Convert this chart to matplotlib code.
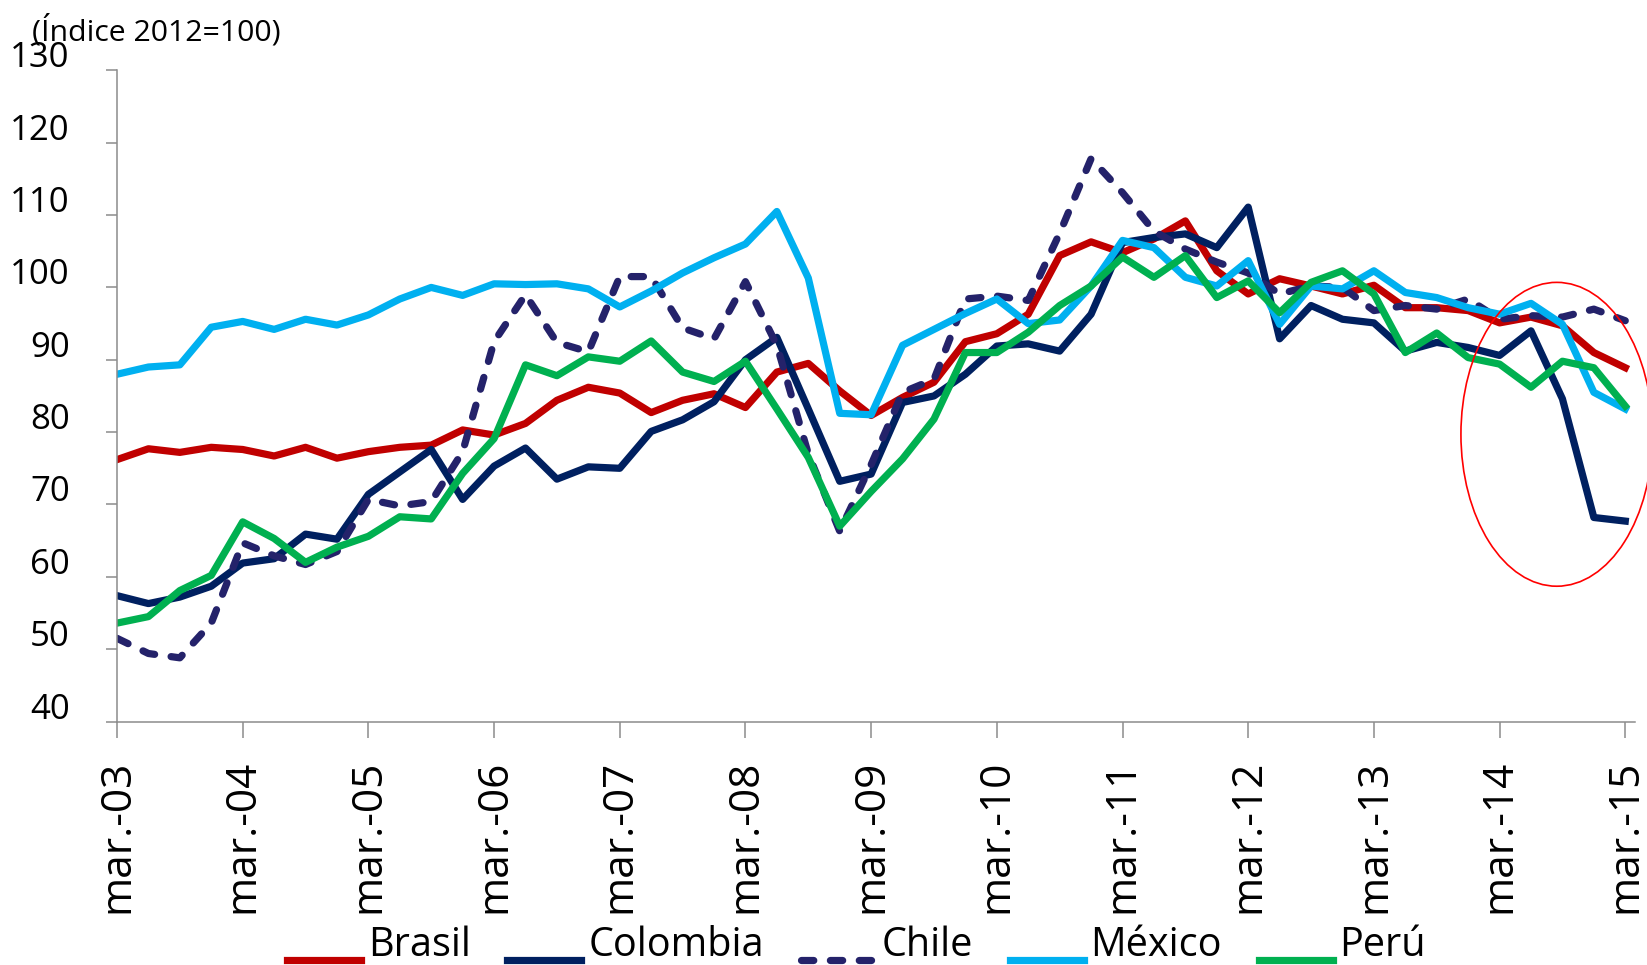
"""Índice de precios de exportación (2012=100), trimestral mar-03 a mar-15."""

import matplotlib
matplotlib.use("Agg")
import matplotlib.pyplot as plt
import numpy as np
from matplotlib.legend_handler import HandlerLine2D
from matplotlib.patches import Ellipse
from matplotlib.transforms import ScaledTranslation

# quarterly points, mar-03 .. mar-15 (49 values each)
brasil = [76.2, 77.7, 77.2, 77.9, 77.6, 76.7, 77.9, 76.4, 77.3, 77.9, 78.2, 80.3, 79.6,
          81.2, 84.4, 86.2, 85.4, 82.7, 84.4, 85.3, 83.4, 88.3, 89.5, 85.7, 82.3,
          84.8, 86.9, 92.5, 93.6, 96.3, 104.4, 106.3, 104.8, 106.7, 109.2, 102.3, 99.1,
          101.2, 100.2, 99.1, 100.3, 97.2, 97.2, 96.8, 95.1, 95.9, 94.7, 91.0, 88.9]
colombia = [57.4, 56.3, 57.2, 58.7, 61.9, 62.5, 65.9, 65.2, 71.4, 74.5, 77.6, 70.7, 75.3,
            77.8, 73.5, 75.2, 75.0, 80.1, 81.7, 84.2, 90.0, 93.1, 83.2, 73.2, 74.2,
            84.1, 85.0, 88.0, 91.9, 92.2, 91.2, 96.3, 106.2, 106.9, 107.4, 105.5, 111.1,
            92.9, 97.5, 95.6, 95.1, 91.2, 92.4, 91.7, 90.6, 94.0, 84.6, 68.2, 67.7]
chile = [51.5, 49.4, 48.8, 53.6, 64.7, 62.9, 61.7, 63.5, 70.7, 69.8, 70.4, 77.3, 92.5,
         99.0, 92.4, 91.1, 101.5, 101.5, 94.4, 92.9, 100.8, 92.0, 77.0, 66.3, 75.5,
         85.5, 87.3, 98.4, 98.8, 98.2, 107.5, 117.8, 113.1, 107.8, 105.3, 103.5, 102.0,
         99.1, 100.2, 100.0, 96.8, 97.5, 97.0, 98.4, 95.6, 96.1, 95.9, 97.0, 95.4]
mexico = [88.0, 89.0, 89.3, 94.5, 95.3, 94.2, 95.6, 94.8, 96.2, 98.4, 100.0, 98.9, 100.5,
          100.4, 100.5, 99.8, 97.3, 99.5, 102.0, 104.1, 106.0, 110.5, 101.3, 82.6, 82.4,
          92.0, 94.2, 96.4, 98.4, 95.0, 95.5, 100.2, 106.5, 105.5, 101.4, 100.2, 103.7,
          94.9, 100.2, 99.8, 102.3, 99.3, 98.6, 97.2, 96.3, 97.8, 94.9, 85.5, 83.2]
peru = [53.6, 54.5, 58.1, 60.2, 67.6, 65.3, 62.0, 64.1, 65.6, 68.3, 68.0, 74.3, 79.1,
        89.3, 87.8, 90.4, 89.8, 92.6, 88.3, 87.0, 89.8, 83.2, 76.5, 67.0, 71.8,
        76.3, 81.8, 91.0, 91.0, 93.8, 97.5, 100.2, 104.2, 101.4, 104.4, 98.6, 100.9,
        96.5, 100.7, 102.3, 99.1, 91.0, 93.7, 90.3, 89.4, 86.2, 89.8, 88.9, 83.6]

year_labels = ["mar.-03", "mar.-04", "mar.-05", "mar.-06", "mar.-07", "mar.-08", "mar.-09",
               "mar.-10", "mar.-11", "mar.-12", "mar.-13", "mar.-14", "mar.-15"]
y_ticks = [40, 50, 60, 70, 80, 90, 100, 110, 120, 130]

COLORS = {
    "Brasil": "#C00000",
    "Colombia": "#002060",
    "Chile": "#24226A",
    "México": "#00B0F0",
    "Perú": "#00B050",
    "axis": "#8C8C8C",
}

plt.rcParams["font.family"] = ["Open Sans", "DejaVu Sans"]


class BaselineLine(HandlerLine2D):
    """Legend line drawn at the text baseline, like the original."""

    def create_artists(self, legend, orig_handle, xdescent, ydescent, width, height,
                       fontsize, trans):
        arts = super().create_artists(legend, orig_handle, xdescent, ydescent, width,
                                      height, fontsize, trans)
        for a in arts:
            a.set_ydata(np.asarray(a.get_ydata()) - 0.62 * height)
        return arts


fig = plt.figure(figsize=(16.47, 9.65), dpi=100)
ax = fig.add_axes([0.07104, 0.25233, 0.92168, 0.67472])

x = np.arange(len(brasil))
series = [("Brasil", brasil), ("Colombia", colombia), ("Chile", chile),
          ("México", mexico), ("Perú", peru)]
handles = []
for name, vals in series:
    if name == "Chile":
        (ln,) = ax.plot(x, vals, color=COLORS[name], lw=5.2, ls=(0, (1.7, 2.3)),
                        dash_capstyle="round", label=name)
    else:
        (ln,) = ax.plot(x, vals, color=COLORS[name], lw=5.2, solid_joinstyle="round",
                        label=name)
    handles.append(ln)

# highlight of the last quarters
ax.add_patch(Ellipse((45.82, 79.7), 6.1, 42.0, fill=False, ec="#FF0000", lw=1.2,
                     clip_on=False, zorder=5))

ax.set_xlim(0, 48.31)
ax.set_ylim(40, 130)
ax.set_yticks(y_ticks)
ax.set_xticks(np.arange(0, len(brasil), 4))
ax.set_xticklabels(year_labels, rotation=90, fontsize=30.5)
ax.tick_params(axis="x", length=11.5, width=1.1, color=COLORS["axis"], pad=16)
ax.tick_params(axis="y", length=8, width=1.1, color=COLORS["axis"], pad=26, labelsize=25)
for lab in ax.get_yticklabels():
    lab.set_transform(lab.get_transform() + ScaledTranslation(0, 0.16, fig.dpi_scale_trans))

for side in ("top", "right"):
    ax.spines[side].set_visible(False)
for side in ("left", "bottom"):
    ax.spines[side].set_color(COLORS["axis"])
    ax.spines[side].set_linewidth(1.1)

fig.text(31.5 / 1647, 1 - 31 / 965, "(Índice 2012=100)", fontsize=21.8, va="center", ha="left")

fig.legend(handles=handles, loc="center left", bbox_to_anchor=(287 / 1647, 1 - 946 / 965),
           ncol=5, frameon=False, fontsize=28.5, handlelength=1.87, handletextpad=0.17,
           columnspacing=0.93, borderpad=0, borderaxespad=0,
           handler_map={h: BaselineLine() for h in handles})

fig.savefig("out.png", dpi=100, facecolor="white")
plt.close(fig)
